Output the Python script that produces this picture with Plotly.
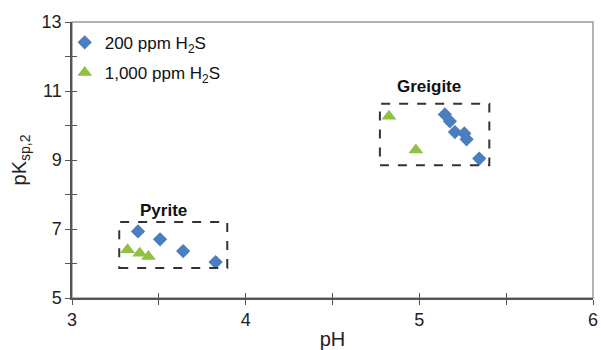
import plotly.graph_objects as go

# --- data ---
ph_200 = [3.38, 3.507, 3.64, 3.827, 5.147, 5.176, 5.205, 5.259, 5.272, 5.345]
pk_200 = [6.93, 6.70, 6.36, 6.04, 10.32, 10.12, 9.81, 9.77, 9.60, 9.04]
ph_1000 = [3.32, 3.39, 3.44, 4.825, 4.98]
pk_1000 = [6.40, 6.30, 6.20, 10.27, 9.29]

series_names = ["200 ppm H<sub>2</sub>S", "1,000 ppm H<sub>2</sub>S"]

# region boxes
region_labels = ["Pyrite", "Greigite"]
region_x0 = [3.272, 4.773]
region_x1 = [3.894, 5.403]
region_y0 = [5.87, 8.85]
region_y1 = [7.20, 10.63]
label_x = [3.525, 5.055]
label_y = [7.53, 11.13]

FONT = "Liberation Sans, Arial, Helvetica, sans-serif"

fig = go.Figure()
fig.add_trace(go.Scatter(x=ph_200, y=pk_200, mode="markers", name=series_names[0], legendgroup="a",
                         marker=dict(symbol="diamond", size=11, color="#4a7ebf")))
fig.add_trace(go.Scatter(x=ph_1000, y=pk_1000, mode="markers", name=series_names[1], legendgroup="b",
                         marker=dict(symbol="triangle-up", size=13, color="#8fc244")))

# lighter frame (top/right)
fig.add_shape(type="rect", xref="paper", yref="paper", x0=0, x1=1, y0=0, y1=1,
              line=dict(color="#9a9a9a", width=1.5), layer="below")

for i in range(len(region_labels)):
    fig.add_shape(type="rect", x0=region_x0[i], x1=region_x1[i], y0=region_y0[i], y1=region_y1[i],
                  line=dict(color="#333333", width=2, dash="dash"))
    fig.add_annotation(x=label_x[i], y=label_y[i], text="<b>%s</b>" % region_labels[i],
                       showarrow=False, font=dict(size=17, color="#111111", family=FONT))

axis_common = dict(showgrid=False, zeroline=False, showline=True, linecolor="#555555", linewidth=1.5,
                   ticks="outside", ticklen=5, tickcolor="#555555", tickwidth=1.2, automargin=False,
                   tickfont=dict(size=18, color="#222222", family=FONT))

fig.update_layout(
    width=601, height=350,
    margin=dict(l=72, r=8, t=22, b=52),
    plot_bgcolor="white", paper_bgcolor="white",
    font=dict(family=FONT, color="#222222"),
    xaxis=dict(range=[3, 6], tick0=3, dtick=1,
               minor=dict(dtick=0.5, ticks="outside", ticklen=5, tickcolor="#555555"),
               title=dict(text="pH", font=dict(size=20, family=FONT), standoff=4),
               **axis_common),
    yaxis=dict(range=[5, 13], tick0=5, dtick=2,
               minor=dict(dtick=1, ticks="outside", ticklen=5, tickcolor="#555555"),
               title=dict(text="pK<sub>sp,2</sub>", font=dict(size=20, family=FONT), standoff=10),
               **axis_common),
    xaxis2=dict(range=[3, 6], overlaying="x", matches="x", side="bottom", anchor="y", showgrid=False,
                zeroline=False, showline=False, showticklabels=False, ticks="inside", ticklen=5,
                tickcolor="#555555", tickwidth=1.2, tick0=3, dtick=0.5, automargin=False),
    yaxis2=dict(range=[5, 13], overlaying="y", matches="y", side="left", anchor="x", showgrid=False,
                zeroline=False, showline=False, showticklabels=False, ticks="inside", ticklen=5,
                tickcolor="#555555", tickwidth=1.2, tick0=5, dtick=1, automargin=False),
    legend=dict(x=-0.014, y=0.99, xanchor="left", yanchor="top", bgcolor="rgba(0,0,0,0)",
                font=dict(size=17, family=FONT, color="#111111"), itemwidth=30,
                tracegroupgap=5),
    showlegend=True,
)

# invisible helper trace so the overlay tick axes are drawn
fig.add_trace(go.Scatter(x=ph_200, y=pk_200, xaxis="x2", yaxis="y2", mode="markers",
                         marker=dict(opacity=0), showlegend=False, hoverinfo="skip"))

fig.write_html("out.html", config={"displayModeBar": False},
               post_script="document.body.style.margin='0';")
